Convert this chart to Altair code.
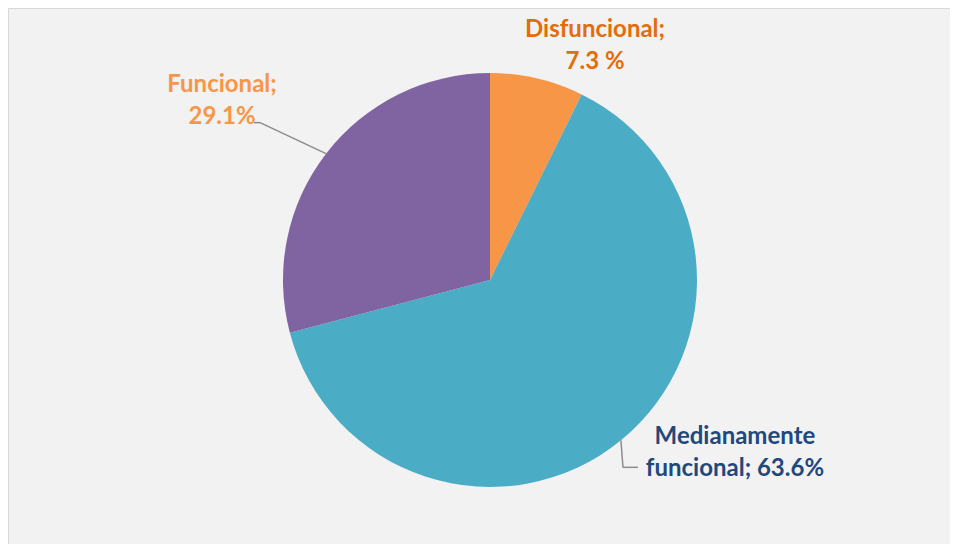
import altair as alt
import pandas as pd

categories = ["Disfuncional", "Medianamente funcional", "Funcional"]
values = [7.3, 63.6, 29.1]
label_texts = ["Disfuncional;\n7.3 %", "Medianamente\nfuncional; 63.6%", "Funcional;\n29.1%"]
slice_colors = ["#F79646", "#4BACC6", "#8064A2"]
label_colors = ["#E46C0A", "#1F497D", "#F79646"]
order = [0, 1, 2]

df = pd.DataFrame({"cat": categories, "value": values, "label": label_texts, "ord": order})

CX, CY, R = 482, 272, 207

base = alt.Chart(df)

pie = base.mark_arc(radius=R).encode(
    theta=alt.Theta("value:Q", stack=True),
    color=alt.Color("cat:N", scale=alt.Scale(domain=categories, range=slice_colors), legend=None),
    order=alt.Order("ord:Q"),
    x=alt.value(CX),
    y=alt.value(CY),
)

geo = base.transform_window(
    cum="sum(value)", sort=[{"field": "ord"}], frame=[None, 0]
).transform_joinaggregate(total="sum(value)").transform_calculate(
    mid="(datum.cum - datum.value/2)/datum.total*2*PI",
    ex=f"{CX} + {R}*sin(datum.mid)",
    ey=f"{CY} - {R}*cos(datum.mid)",
)

label_offsets = {
    "Disfuncional": (58, -48),
    "Medianamente funcional": (114, -3),
    "Funcional": (-104, -69),
}

layers = [pie]
for cat, col in zip(categories, label_colors):
    dx, dy = label_offsets[cat]
    layers.append(
        geo.transform_filter(alt.datum.cat == cat).mark_text(
            font="Lato", fontWeight="bold", fontSize=24, lineBreak="\n",
            lineHeight=32, align="center", baseline="middle", dx=dx, dy=dy, color=col,
        ).encode(
            x=alt.X("ex:Q", scale=None, axis=None),
            y=alt.Y("ey:Q", scale=None, axis=None),
            text="label:N",
        )
    )

# leader lines (segments relative to slice edge)
segments = [
    ("Funcional", (0, 0), (-66, -31)),
    ("Funcional", (-66, -31), (-72, -31)),
    ("Medianamente funcional", (0, 0), (2, 27)),
    ("Medianamente funcional", (2, 27), (17, 27)),
]
for i, (cat, p1, p2) in enumerate(segments):
    layers.append(
        geo.transform_filter(alt.datum.cat == cat).transform_calculate(
            x1=f"datum.ex + {p1[0]}", y1=f"datum.ey + {p1[1]}",
            x2=f"datum.ex + {p2[0]}", y2=f"datum.ey + {p2[1]}",
        ).mark_rule(color="#8c8c8c", strokeWidth=1.5).encode(
            x=alt.X("x1:Q", scale=None, axis=None),
            y=alt.Y("y1:Q", scale=None, axis=None),
            x2="x2:Q",
            y2="y2:Q",
        )
    )

chart = alt.layer(*layers).properties(
    width=942, height=536,
    autosize=alt.AutoSizeParams(type="fit", contains="padding"),
    padding=0,
    background="#f2f2f2",
).configure_view(stroke="#d9d9d9", strokeWidth=1)

chart.save("out.html", embed_options={"renderer": "svg", "actions": False})
